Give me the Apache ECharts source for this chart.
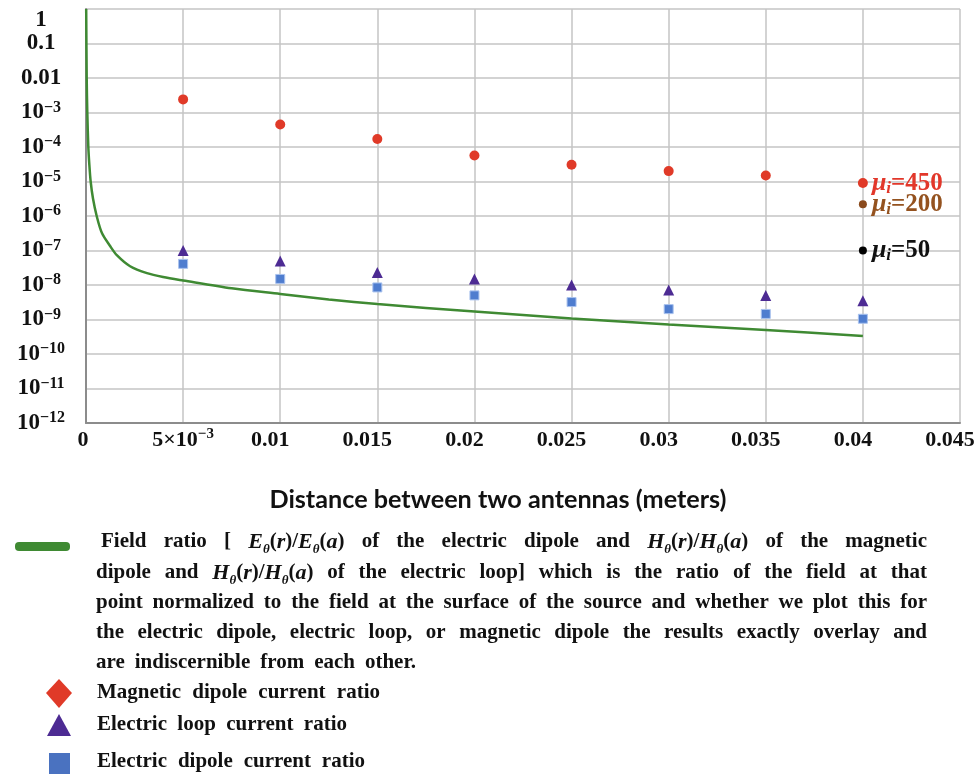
<!DOCTYPE html>
<html><head><meta charset="utf-8">
<script src="https://cdn.jsdelivr.net/npm/echarts@6/dist/echarts.min.js"></script>
<style>html,body{margin:0;padding:0;background:#fff}#c{width:975px;height:776px}</style>
</head><body><div id="c"></div>
<script>
// ---------- data ----------
const xTickValues = [0, 0.005, 0.01, 0.015, 0.02, 0.025, 0.03, 0.035, 0.04, 0.045];
const xTickLabels = ['0', '5×10^-3', '0.01', '0.015', '0.02', '0.025', '0.03', '0.035', '0.04', '0.045'];
const yTickExponents = [0, -1, -2, -3, -4, -5, -6, -7, -8, -9, -10, -11, -12];

const distances = [0.005, 0.01, 0.015, 0.02, 0.025, 0.03, 0.035, 0.04];
const magneticDipoleRatio = [2.4e-3, 4.5e-4, 1.7e-4, 5.7e-5, 3.05e-5, 2.0e-5, 1.5e-5, 9e-6];
const electricLoopRatio = [1.0e-7, 5.0e-8, 2.3e-8, 1.5e-8, 1.0e-8, 7.2e-9, 5.0e-9, 3.5e-9];
const electricDipoleRatio = [4.1e-8, 1.5e-8, 8.5e-9, 5.0e-9, 3.2e-9, 2.0e-9, 1.45e-9, 1.05e-9];

const fieldRatioX = [0.00001, 0.000036, 0.000067, 0.00012, 0.00017, 0.00024, 0.00036, 0.00055, 0.00082, 0.00124, 0.0016, 0.00227, 0.00314, 0.00397, 0.005, 0.0075, 0.01, 0.0125, 0.015, 0.02, 0.025, 0.03, 0.035, 0.04];
const fieldRatioY = [1, 1e-2, 1e-3, 1e-4, 3.2e-5, 1e-5, 3.2e-6, 1e-6, 3.2e-7, 1.35e-7, 7.2e-8, 3.5e-8, 2.2e-8, 1.7e-8, 1.35e-8, 8e-9, 5.5e-9, 3.8e-9, 2.8e-9, 1.7e-9, 1.07e-9, 7.2e-10, 5.0e-10, 3.3e-10];

const muX = 0.04;
const muValues = [9e-6, 2.2e-6, 1e-7];
const muLabels = ['450', '200', '50'];
const muColors = ['#e2372a', '#94521f', '#111111'];
const muDotColors = ['#e03a28', '#8a4a1c', '#000000'];

const legendLabels = ['Magnetic dipole current ratio', 'Electric loop current ratio', 'Electric dipole current ratio'];
const axisTitle = 'Distance between two antennas (meters)';

// ---------- styles ----------
const SERIF = '"Liberation Serif", "Times New Roman", serif';
const C_RED = '#e03a28', C_PURPLE = '#4d2b93', C_BLUE = '#4f7dcf', C_GREEN = '#3f8a33';

const ctx = document.createElement('canvas').getContext('2d');
function measure(font, text) { ctx.font = font; return ctx.measureText(text).width; }

const P = 21;
const pRich = {
  n: { fontFamily: SERIF, fontWeight: 'bold', fontSize: P, lineHeight: 28, fill: '#111' },
  i: { fontFamily: SERIF, fontStyle: 'italic', fontWeight: 'bold', fontSize: 22, lineHeight: 28, fill: '#111' },
  s: { fontFamily: SERIF, fontStyle: 'italic', fontWeight: 'bold', fontSize: 13, lineHeight: 14, verticalAlign: 'bottom', fill: '#111' }
};
function fontOf(st) { return (st.fontStyle || 'normal') + ' ' + (st.fontWeight || 'normal') + ' ' + st.fontSize + 'px ' + st.fontFamily; }

const MATH_E = [['i', 'E'], ['s', 'θ'], ['n', '('], ['i', 'r'], ['n', ')/'], ['i', 'E'], ['s', 'θ'], ['n', '('], ['i', 'a'], ['n', ')']];
const MATH_H = [['i', 'H'], ['s', 'θ'], ['n', '('], ['i', 'r'], ['n', ')/'], ['i', 'H'], ['s', 'θ'], ['n', '('], ['i', 'a'], ['n', ')']];

const paraLines = [
  ['Field', 'ratio', '[', MATH_E, 'of', 'the', 'electric', 'dipole', 'and', MATH_H, 'of', 'the', 'magnetic'],
  ['dipole', 'and', MATH_H, 'of', 'the', 'electric', 'loop]', 'which', 'is', 'the', 'ratio', 'of', 'the', 'field', 'at', 'that'],
  ['point', 'normalized', 'to', 'the', 'field', 'at', 'the', 'surface', 'of', 'the', 'source', 'and', 'whether', 'we', 'plot', 'this', 'for'],
  ['the', 'electric', 'dipole,', 'electric', 'loop,', 'or', 'magnetic', 'dipole', 'the', 'results', 'exactly', 'overlay', 'and'],
  ['are', 'indiscernible', 'from', 'each', 'other.']
];
const paraStartX = [101, 96, 96, 96, 96];
const paraY = [542, 573, 603, 633, 663];
const paraRight = 927;

function wordFrags(w) { return typeof w === 'string' ? [['n', w]] : w; }
function wordWidth(w) { return wordFrags(w).reduce((s, f) => s + measure(fontOf(pRich[f[0]]), f[1]), 0); }
function wordElement(w, x, y) {
  const frags = wordFrags(w);
  return {
    type: 'text', x: x, y: y, silent: true,
    style: {
      text: frags.map(f => '{' + f[0] + '|' + f[1] + '}').join(''),
      rich: pRich, align: 'left', verticalAlign: 'middle', fill: '#111'
    }
  };
}
function layoutLine(words, x0, y, right, justify) {
  const widths = words.map(wordWidth);
  const total = widths.reduce((a, b) => a + b, 0);
  const space = measure(fontOf(pRich.n), ' ');
  const gap = justify ? (right - x0 - total) / (words.length - 1) : space * 1.9;
  const els = [];
  let x = x0;
  words.forEach((w, i) => { els.push(wordElement(w, x, y)); x += widths[i] + gap; });
  return els;
}

const graphics = [];
paraLines.forEach((ln, k) => {
  graphics.push(...layoutLine(ln, paraStartX[k], paraY[k], paraRight, k < paraLines.length - 1));
});
const legendY = [693, 725, 762];
const legendRight = [380, 347, 365];
legendLabels.forEach((t, k) => {
  graphics.push(...layoutLine(t.split(' '), 97, legendY[k], legendRight[k], true));
});
graphics.push({ type: 'rect', shape: { x: 15, y: 542, width: 55, height: 9, r: 4 }, style: { fill: C_GREEN } });
graphics.push({ type: 'polygon', shape: { points: [[59, 679], [72, 693], [59, 708], [46, 693]] }, style: { fill: C_RED } });
graphics.push({ type: 'polygon', shape: { points: [[59, 714], [71, 736], [47, 736]] }, style: { fill: C_PURPLE } });
graphics.push({ type: 'rect', shape: { x: 49, y: 753, width: 21, height: 21 }, style: { fill: '#4a72c0' } });
const TITLE_FAMILY = 'Lato, "Open Sans", sans-serif';
const titleSize = Math.round(20 * 457 / measure('bold 20px ' + TITLE_FAMILY, axisTitle) * 10) / 10;
graphics.push({ type: 'text', x: 498, y: 500, style: { text: axisTitle, font: 'bold ' + titleSize + 'px ' + TITLE_FAMILY, align: 'center', verticalAlign: 'middle', fill: '#111' } });

// ---------- axes formatters ----------
function yFmt(v) {
  const e = Math.round(Math.log10(v));
  if (yTickExponents.indexOf(e) < 0) return '';
  if (e === 0) return '{one|1}';
  if (e === -1) return '{b|0.1}';
  if (e === -2) return '{b|0.01}';
  return '{b|10}{sup|\u2212' + (-e) + '}';
}
function xFmt(v) {
  const idx = xTickValues.findIndex(t => Math.abs(t - v) < 1e-9);
  if (idx < 0) return '';
  const lab = xTickLabels[idx];
  if (lab.indexOf('^') >= 0) {
    const p = lab.split('^');
    return '{b|' + p[0] + '}{sup|' + p[1].replace('-', '\u2212') + '}';
  }
  if (idx === 0) return '{z|' + lab + '}';
  return '{s|' + lab + '}';
}
const yTickValues = yTickExponents.map(e => Math.pow(10, e));

const chart = echarts.init(document.getElementById('c'));
chart.setOption({
  animation: false,
  backgroundColor: '#fff',
  grid: { left: 86, right: 15, top: 9, bottom: 353, outerBoundsMode: 'none', containLabel: false },
  xAxis: {
    type: 'value', min: 0, max: 0.045, interval: 0.005,
    axisLine: { show: true, onZero: false, lineStyle: { color: '#8c8c8c', width: 2 } },
    axisTick: { show: false },
    splitLine: { show: true, lineStyle: { color: '#c4c4c4', width: 1.5 } },
    axisLabel: {
      margin: 4, showMinLabel: true, showMaxLabel: true, formatter: xFmt,
      rich: {
        b: { fontFamily: SERIF, fontWeight: 'bold', fontSize: 22, lineHeight: 26, color: '#111' },
        sup: { fontFamily: SERIF, fontWeight: 'bold', fontSize: 15, lineHeight: 14, verticalAlign: 'top', color: '#111' },
        s: { fontFamily: SERIF, fontWeight: 'bold', fontSize: 22, lineHeight: 26, color: '#111', padding: [0, 20, 0, 0] },
        z: { fontFamily: SERIF, fontWeight: 'bold', fontSize: 22, lineHeight: 26, color: '#111', padding: [0, 6, 0, 0] }
      }
    }
  },
  yAxis: {
    type: 'log', logBase: 10, min: 1e-12, max: 1, interval: 1,
    axisLine: { show: true, lineStyle: { color: '#8c8c8c', width: 2 } },
    axisTick: { show: false, customValues: yTickValues },
    splitLine: { show: true, lineStyle: { color: '#c4c4c4', width: 1.5 } },
    axisLabel: {
      margin: 45, align: 'center', showMinLabel: true, showMaxLabel: true, formatter: yFmt,
      customValues: yTickValues,
      rich: {
        b: { fontFamily: SERIF, fontWeight: 'bold', fontSize: 23, lineHeight: 26, color: '#111' },
        sup: { fontFamily: SERIF, fontWeight: 'bold', fontSize: 16, lineHeight: 14, verticalAlign: 'top', color: '#111' },
        one: { fontFamily: SERIF, fontWeight: 'bold', fontSize: 23, lineHeight: 26, color: '#111', padding: [22, 0, 0, 0] }
      }
    }
  },
  series: [
    {
      name: 'Field ratio', type: 'line', showSymbol: false, smooth: 0.3,
      data: fieldRatioX.map((x, i) => [x, fieldRatioY[i]]),
      lineStyle: { color: C_GREEN, width: 2.5 }, z: 2
    },
    {
      name: 'Magnetic dipole current ratio', type: 'scatter', symbol: 'circle', symbolSize: 10,
      data: distances.map((x, i) => [x, magneticDipoleRatio[i]]),
      itemStyle: { color: C_RED, opacity: 1 }, z: 3
    },
    {
      name: 'Electric loop current ratio', type: 'scatter', symbol: 'triangle', symbolSize: 11,
      data: distances.map((x, i) => [x, electricLoopRatio[i]]),
      itemStyle: { color: C_PURPLE, opacity: 1 }, z: 3
    },
    {
      name: 'Electric dipole current ratio', type: 'scatter', symbol: 'rect', symbolSize: 9,
      data: distances.map((x, i) => [x, electricDipoleRatio[i]]),
      itemStyle: { color: C_BLUE, borderColor: '#a9c2ee', borderWidth: 1, opacity: 1 }, z: 3
    },
    {
      name: 'mu', type: 'scatter', symbol: 'circle', symbolSize: 8, z: 4,
      data: muValues.map((v, i) => ({
        value: [muX, v], itemStyle: { color: muDotColors[i], opacity: 1 },
        label: { color: muColors[i] }
      })),
      label: {
        show: true, position: 'right', distance: 5,
        formatter: p => '{mu|μ}{sub|i}{eq|=' + muLabels[p.dataIndex] + '}',
        rich: {
          mu: { fontFamily: SERIF, fontStyle: 'italic', fontWeight: 'bold', fontSize: 26, lineHeight: 28 },
          sub: { fontFamily: SERIF, fontStyle: 'italic', fontWeight: 'bold', fontSize: 17, lineHeight: 14, verticalAlign: 'bottom' },
          eq: { fontFamily: SERIF, fontWeight: 'bold', fontSize: 25, lineHeight: 28 }
        }
      }
    }
  ],
  graphic: graphics
});
</script>
</body></html>
